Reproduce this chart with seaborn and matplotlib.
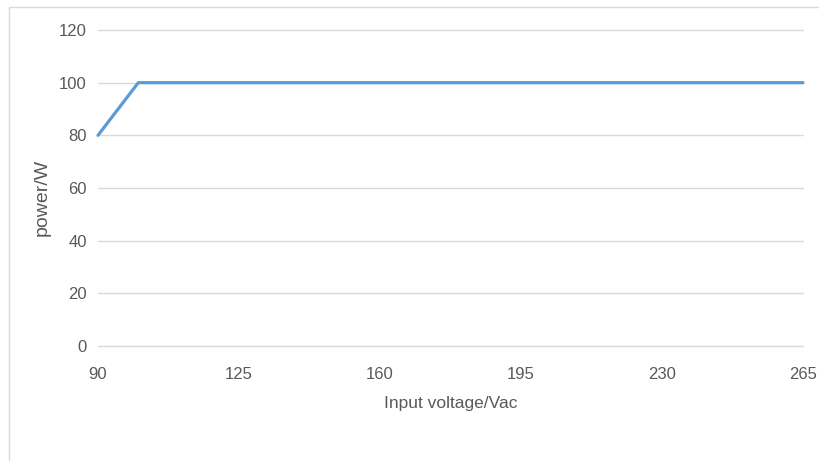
import matplotlib
matplotlib.use("Agg")
import matplotlib.pyplot as plt
import seaborn as sns
import pandas as pd
from matplotlib.patches import Rectangle

voltage = [90, 100, 265]
power = [80, 100, 100]
x_ticks = [90, 125, 160, 195, 230, 265]
y_ticks = [0, 20, 40, 60, 80, 100, 120]

sns.set_style("white")
plt.rcParams['font.family'] = ['Liberation Sans', 'DejaVu Sans']

df = pd.DataFrame({"voltage": voltage, "power": power})

fig = plt.figure(figsize=(8.2, 4.61), dpi=100)
ax = fig.add_axes([98/820, 1-346/461, 705/820, 316/461])
fig.patches.append(Rectangle((9/820, -0.1), 1.2, 1-7/461+0.1, transform=fig.transFigure,
                             fill=False, edgecolor="#d9d9d9", linewidth=1))

for y in y_ticks:
    ax.axhline(y, color="#d9d9d9", linewidth=1, zorder=0)

sns.lineplot(data=df, x="voltage", y="power", ax=ax, color="#5b9bd5", linewidth=2.3)

ax.set_xlim(90, 265)
ax.set_ylim(0, 120)
ax.set_xticks(x_ticks)
ax.set_yticks(y_ticks)
ax.tick_params(axis='both', length=0, labelsize=12, labelcolor="#595959")
ax.tick_params(axis='x', pad=15)
ax.tick_params(axis='y', pad=8)
for s in ax.spines.values():
    s.set_visible(False)
ax.set_xlabel("Input voltage/Vac", fontsize=12.5, color="#595959")
ax.set_ylabel("power/W", fontsize=14, color="#595959")
ax.xaxis.set_label_coords(0.5, (346-396)/316)
ax.yaxis.set_label_coords((51-98)/705, 0.47)
for l in ax.lines:
    l.set_clip_on(False)

fig.savefig("out.png", dpi=100)
